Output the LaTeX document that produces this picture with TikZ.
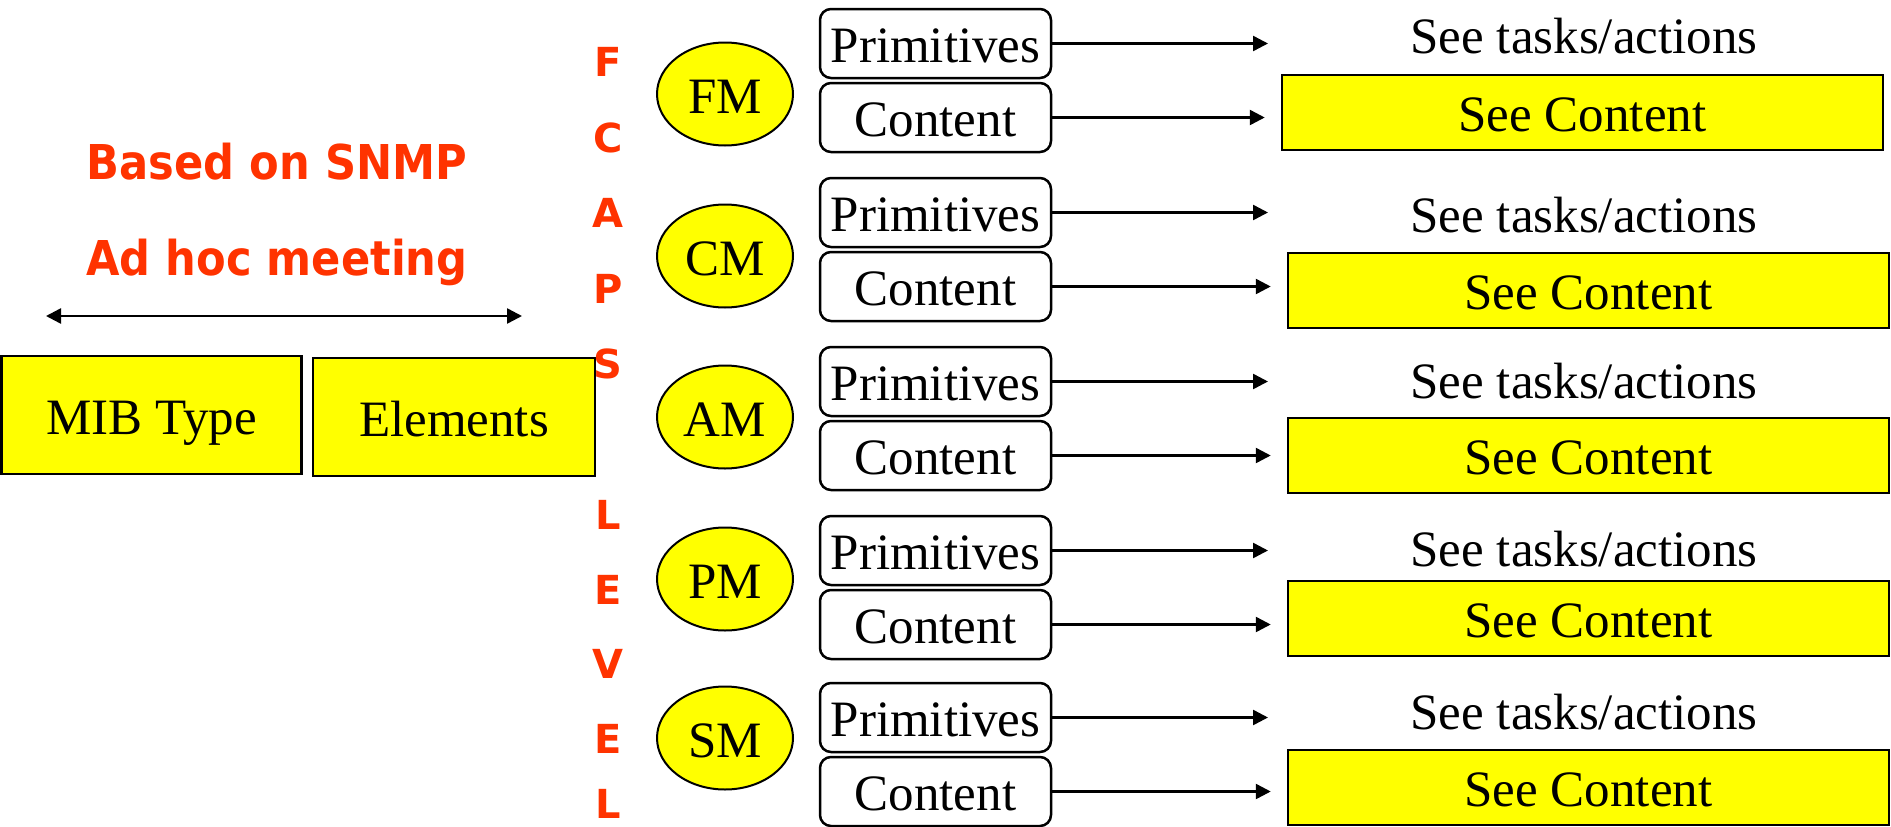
\documentclass[tikz,border=0pt]{standalone}
\usepackage{fontspec}
\usepackage{graphicx}
\setmainfont{Liberation Serif}
\newfontfamily\hdfont{DejaVu Sans}
\usetikzlibrary{arrows.meta,shapes.geometric}
\definecolor{boxyellow}{HTML}{FFFF00}
\definecolor{hdred}{HTML}{FF3300}
\tikzset{
  bigtxt/.style={font=\fontsize{51}{56}\selectfont, text height=38pt, text depth=0pt},
  ybox/.style={bigtxt, draw, fill=boxyellow, line width=2.5pt, inner sep=2pt},
  primbox/.style={bigtxt, draw, rounded corners=11pt, line width=2.5pt, inner sep=2pt,
                  minimum width=231, minimum height=69},
  mgmt/.style={bigtxt, ellipse, draw, fill=boxyellow, line width=2pt, inner sep=0pt,
               minimum width=136, minimum height=103},
  seetxt/.style={font=\fontsize{51}{56}\selectfont, anchor=base, inner sep=0pt},
  hdtxt/.style={font=\hdfont\bfseries\fontsize{48}{52}\selectfont, text=hdred, anchor=base, inner sep=0pt},
  letter/.style={font=\hdfont\bfseries\fontsize{40}{44}\selectfont, text=hdred, inner sep=0pt},
  conn/.style={line width=2.5pt, -{Triangle[length=15pt,width=15pt]}},
}
\begin{document}
\begin{tikzpicture}[x=1pt,y=-1pt]
\useasboundingbox (0,0) rectangle (1891,827);

% left part
\node[ybox, minimum width=300, minimum height=118] (mib) at (151.5,415) {MIB Type};
\node[ybox, minimum width=282, minimum height=118] (elem) at (454,417) {Elements};
\node[hdtxt] (snmp) at (277,179) {\scalebox{0.9}[1]{Based on SNMP}};
\node[hdtxt] (adhoc) at (277,275) {\scalebox{0.9}[1]{Ad hoc meeting}};
\coordinate (dl) at (46,316);
\coordinate (dr) at (522,316);
\draw[line width=2.5pt, {Triangle[length=15pt,width=15pt]}-{Triangle[length=15pt,width=15pt]}] (dl) -- (dr);

% FCAPS LEVEL letters
\foreach \l/\yy [count=\i] in {F/62,C/138,A/213,P/289,S/364,L/515,E/590,V/664,E/739,L/804}
  \node[letter] (lt\i) at (608,\yy) {\l};

% groups
\foreach \nm/\pt/\ey/\sb/\st/\sx [count=\i] in
  {FM/9/94/53/75/1282, CM/178/256/232/253/1288, AM/347/417/398/418/1288,
   PM/516/579/566/581/1288, SM/683/738/729/750/1288} {
  \node[mgmt] (m\i) at (725,\ey) {\nm};
  \node[primbox] (p\i) at (935.5,\pt+34.5) {Primitives};
  \node[primbox] (c\i) at (935.5,\pt+108.5) {Content};
  \coordinate (pe\i) at (1268,\pt+34.5);
  \draw[conn] (p\i.east) -- (pe\i);
  \node[seetxt] (st\i) at (1584,\sb) {See tasks/actions};
  \node[ybox, minimum width=601, minimum height=75] (sc\i) at (\sx+300.5,\st+37.5) {See Content};
  \draw[conn, shorten >=16pt] (c\i.east) -- (c\i.east -| sc\i.west);
}
\end{tikzpicture}
\end{document}
